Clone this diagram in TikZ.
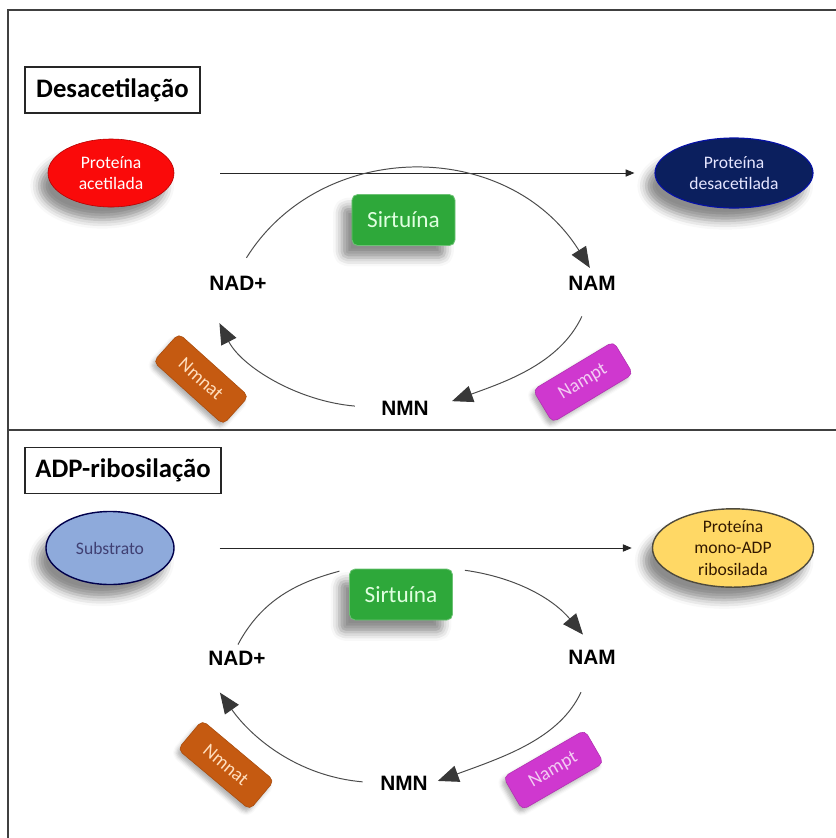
\documentclass[tikz,border=0pt]{standalone}
\usepackage{fontspec}
\setmainfont{Carlito}
\newfontfamily\arialfont{Liberation Sans}
\usepackage{tikz}
\usetikzlibrary{arrows.meta,shapes.geometric,shadows.blur}
\usepackage{xcolor}

\definecolor{verdesirt}{HTML}{2EA83A}
\definecolor{vermelho}{HTML}{FA0A0A}
\definecolor{marinho}{HTML}{0B1F5E}
\definecolor{azulclaro}{HTML}{8EAADB}
\definecolor{amarelo}{HTML}{FFD865}
\definecolor{laranja}{HTML}{C55A11}
\definecolor{magenta}{HTML}{CF38CF}

\begin{document}
\begin{tikzpicture}[x=0.025cm,y=0.025cm,
	borda/.style={draw=black!75,line width=0.9pt},
	titulo/.style={draw=black!85,line width=0.8pt,fill=white,font=\fontsize{19}{22}\selectfont\bfseries,minimum height=1.15cm},
	prot/.style={ellipse,align=center,inner sep=0pt,font=\fontsize{12.5}{15.4}\selectfont,
		blur shadow={shadow xshift=-0.22cm,shadow yshift=-0.32cm,shadow blur radius=0.22cm,shadow opacity=45}},
	enzima/.style={rounded corners=4pt,inner sep=0pt,minimum width=2.35cm,minimum height=0.95cm,
		font=\fontsize{13.5}{15}\selectfont,
		blur shadow={shadow xshift=-0.08cm,shadow yshift=-0.1cm,shadow blur radius=0.1cm,shadow opacity=30}},
	sirt/.style={fill=verdesirt,draw=verdesirt!70!white,line width=0.6pt,rounded corners=4pt,
		minimum width=2.575cm,minimum height=1.275cm,text=white!88!green,font=\fontsize{16.5}{18}\selectfont,
		blur shadow={shadow xshift=-0.25cm,shadow yshift=-0.3cm,shadow blur radius=0.22cm,shadow opacity=45}},
	metab/.style={font=\arialfont\bfseries\fontsize{14.8}{16}\selectfont,inner sep=3pt},
	fluxo/.style={draw=black!85,line width=0.7pt,-{Triangle[length=2.2mm,width=1.8mm]}},
	linha/.style={draw=black!70,line width=0.7pt},
	ciclo/.style={draw=black!70,line width=0.7pt,-{Triangle[length=5.2mm,width=4.2mm,color=black!78]}},
]
	\useasboundingbox (0,0) rectangle (836,-838);

	% moldura
	\draw[borda] (8,-838) -- (8,-10) -- (836,-10);
	\draw[borda] (8,-430) -- (836,-430);

	% desacetilacao
	\node[titulo,minimum width=4.375cm] (tit1) at (112.5,-90) {Desacetilação};
	\node[prot,fill=vermelho,draw=red!70!black,minimum width=3.15cm,minimum height=1.7cm,text=white] (acet) at (111,-173) {Proteína\\acetilada};
	\node[prot,fill=marinho,draw=blue!45!marinho,line width=0.8pt,minimum width=3.95cm,minimum height=1.75cm,text=white!90!blue] (desac) at (734,-173) {Proteína\\desacetilada};
	\node[sirt] (sirt1) at (403.5,-220) {Sirtuína};
	\node[metab] (nad1) at (238,-283) {NAD+};
	\node[metab] (nam1) at (592,-283) {NAM};
	\node[metab] (nmn1) at (405,-408) {NMN};
	\node[enzima,fill=laranja,draw=laranja!85!black,text=orange!25!white,rotate=-42] (nmnat1) at (201,-379) {Nmnat};
	\node[enzima,fill=magenta,draw=magenta!85!black,text=magenta!25!white,rotate=31] (nampt1) at (583,-382) {Nampt};

	\draw[fluxo,shorten <=1.15cm,shorten >=0.5cm] (acet) -- (desac);
	\draw[ciclo,shorten <=0.4cm,shorten >=0.1cm] (nad1.north) to[out=58,in=122,looseness=1.14] (nam1.north);
	\draw[ciclo,shorten <=0.6cm,shorten >=0.5cm] (nam1.south) to[out=-115,in=20] (nmn1.east);
	\draw[ciclo,shorten <=0.55cm,shorten >=0.8cm] (nmn1.west) to[out=175,in=-63] (nad1.south west);

	% ADP-ribosilacao
	\node[titulo,minimum width=4.9cm] (tit2) at (123,-470.5) {ADP-ribosilação};
	\node[prot,fill=azulclaro,draw=blue!30!black,line width=1pt,minimum width=3.2cm,minimum height=1.825cm,text=black!60!blue!50!gray] (subs) at (110,-548) {Substrato};
	\node[prot,fill=amarelo,draw=black!80!yellow,line width=1pt,minimum width=4.025cm,minimum height=1.825cm,text=black!80!orange] (ribos) at (733,-548) {Proteína\\mono-ADP\\ribosilada};
	\node[sirt] (sirt2) at (401,-594.5) {Sirtuína};
	\node[metab] (nad2) at (237,-658) {NAD+};
	\node[metab] (nam2) at (592,-657) {NAM};
	\node[metab] (nmn2) at (404,-783) {NMN};
	\node[enzima,fill=laranja,draw=laranja!85!black,text=orange!25!white,rotate=-40] (nmnat2) at (226,-765) {Nmnat};
	\node[enzima,fill=magenta,draw=magenta!85!black,text=magenta!25!white,rotate=30] (nampt2) at (553.5,-770) {Nampt};

	\draw[fluxo,shorten <=1.12cm,shorten >=0.5cm] (subs) -- (ribos);
	\draw[linha,shorten <=0.05cm,shorten >=0.25cm] (nad2.north) to[out=62,in=195] (sirt2.north west);
	\draw[ciclo,shorten <=0.3cm,shorten >=0.35cm] (sirt2.north east) to[out=-8,in=130] (nam2.north);
	\draw[ciclo,shorten <=0.65cm,shorten >=0.15cm] (nam2.south) to[out=-115,in=20] (nmn2.east);
	\draw[ciclo,shorten <=0.33cm,shorten >=0.7cm] (nmn2.west) to[out=175,in=-55] (nad2.south west);
\end{tikzpicture}
\end{document}
